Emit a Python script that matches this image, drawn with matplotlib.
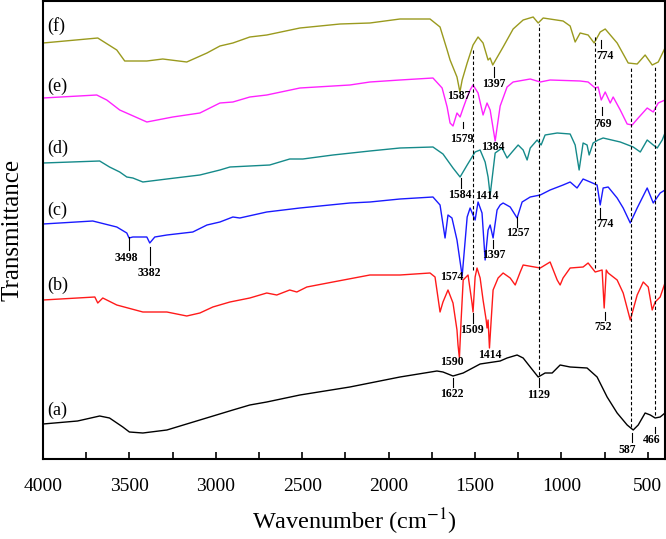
import matplotlib
matplotlib.use("Agg")
import matplotlib.pyplot as plt
from matplotlib.ticker import MultipleLocator

plt.rcParams['font.family'] = ['Liberation Serif', 'DejaVu Serif']
plt.rcParams['mathtext.fontset'] = 'stix'

# spectra: wavenumber (cm-1) and offset transmittance (a.u.)
wn_a = [4000, 3800, 3672, 3615, 3538, 3500, 3422, 3283, 3092, 2901, 2803, 2705, 2513, 2224, 2108,
        1934, 1720, 1685, 1627, 1568, 1470, 1354, 1314, 1256, 1221, 1180, 1134, 1094, 1053, 1007,
        949, 851, 793, 735, 677, 619, 584, 555, 515, 485, 457, 428, 400]
t_a = [35, 38, 43, 41, 32, 27, 26, 29, 39, 49, 54, 57, 64, 72, 76,
       82, 88, 87, 83, 86, 95, 98, 101, 104, 101, 92, 82, 86, 86, 94,
       92, 91, 82, 62, 46, 34, 29, 34, 46, 44, 41, 42, 46]

wn_b = [4000, 3700, 3683, 3654, 3573, 3422, 3283, 3168, 3092, 3017, 2918, 2803, 2705, 2647, 2572,
        2531, 2473, 2322, 2108, 1934, 1760, 1731, 1702, 1685, 1656, 1627, 1604, 1598, 1590, 1580,
        1568, 1540, 1517, 1511, 1499, 1488, 1470, 1453, 1435, 1430, 1424, 1416, 1406, 1395, 1366,
        1337, 1296, 1267, 1238, 1221, 1122, 1065, 1024, 1007, 990, 949, 874, 845, 804, 764,
        752, 740, 729, 677, 642, 601, 561, 526, 497, 474, 457, 428, 400]
t_b = [159, 162, 156, 161, 154, 147, 147, 143, 146, 152, 157, 161, 166, 164, 169,
       167, 172, 177, 184, 184, 186, 182, 147, 157, 169, 156, 129, 114, 101, 139,
       179, 184, 156, 147, 182, 191, 181, 159, 139, 131, 139, 111, 139, 169, 181,
       186, 181, 174, 187, 194, 191, 197, 179, 174, 181, 191, 192, 196, 187, 189,
       151, 189, 186, 179, 166, 139, 164, 177, 172, 149, 157, 162, 176]

wn_c = [4000, 3712, 3573, 3515, 3502, 3480, 3422, 3399, 3382, 3353, 3283, 3133, 3051, 2976, 2901,
        2861, 2705, 2513, 2224, 2108, 1934, 1743, 1702, 1673, 1656, 1633, 1604, 1574, 1545, 1528,
        1499, 1482, 1459, 1441, 1424, 1412, 1395, 1372, 1354, 1337, 1296, 1256, 1227, 1180, 1122,
        1065, 990, 949, 909, 874, 833, 793, 775, 758, 729, 677, 642, 601, 561, 503,
        468, 428, 400]
t_c = [235, 238, 232, 226, 221, 222, 222, 222, 216, 222, 224, 227, 234, 237, 242,
       241, 247, 251, 256, 257, 260, 262, 254, 221, 244, 241, 219, 183, 242, 251,
       239, 257, 246, 199, 229, 234, 221, 249, 254, 256, 252, 241, 257, 262, 264,
       269, 274, 277, 271, 280, 277, 274, 254, 271, 272, 261, 251, 236, 251, 271,
       256, 266, 269]

wn_d = [4000, 3672, 3615, 3556, 3515, 3480, 3422, 3283, 3092, 2976, 2918, 2803, 2688, 2572, 2496,
        2322, 2108, 1934, 1743, 1685, 1627, 1586, 1545, 1499, 1470, 1441, 1424, 1412, 1383, 1343,
        1314, 1285, 1250, 1221, 1198, 1180, 1140, 1117, 1094, 1024, 949, 920, 897, 874, 851,
        839, 816, 787, 758, 659, 584, 543, 503, 468, 445, 416, 400]
t_d = [296, 298, 292, 287, 282, 281, 277, 280, 284, 289, 292, 293, 294, 300, 300,
       304, 308, 311, 312, 305, 291, 282, 294, 307, 309, 297, 282, 264, 306, 311,
       301, 307, 314, 309, 299, 311, 319, 314, 324, 326, 325, 314, 289, 316, 314,
       304, 316, 319, 321, 317, 312, 307, 319, 314, 311, 319, 326]

wn_e = [4000, 3689, 3631, 3556, 3399, 3249, 3092, 2976, 2901, 2803, 2705, 2513, 2224, 2108, 1934,
        1743, 1690, 1661, 1644, 1627, 1604, 1586, 1568, 1545, 1528, 1511, 1482, 1453, 1430, 1412,
        1383, 1354, 1314, 1279, 1180, 1122, 1065, 891, 845, 804, 787, 769, 746, 717, 700,
        659, 619, 590, 555, 503, 468, 439, 400]
t_e = [361, 364, 359, 349, 337, 342, 346, 356, 357, 362, 364, 371, 374, 377, 379,
       381, 371, 352, 336, 333, 346, 342, 351, 362, 369, 374, 366, 344, 356, 349,
       318, 353, 372, 377, 380, 377, 379, 378, 377, 371, 372, 359, 367, 356, 362,
       349, 335, 334, 341, 351, 347, 356, 359]

wn_f = [4000, 3683, 3573, 3527, 3399, 3307, 3168, 3051, 2976, 2901, 2803, 2705, 2513, 2281, 2108,
        1934, 1819, 1760, 1702, 1661, 1644, 1604, 1587, 1574, 1545, 1511, 1482, 1453, 1424, 1412,
        1397, 1337, 1279, 1221, 1163, 1134, 1105, 990, 949, 920, 891, 845, 810, 775, 746,
        677, 613, 561, 515, 474, 439, 400]
t_f = [416, 421, 409, 398, 398, 400, 397, 406, 413, 416, 422, 424, 431, 435, 436,
       440, 440, 440, 432, 409, 399, 382, 367, 379, 396, 414, 422, 416, 399, 401,
       394, 412, 430, 439, 442, 436, 441, 438, 433, 417, 426, 424, 416, 427, 430,
       416, 396, 395, 404, 394, 397, 411]

curve_labels = ['(a)', '(b)', '(c)', '(d)', '(e)', '(f)']
colors = ['#000000', '#ff1a1a', '#1a1aff', '#158a8a', '#ff22ff', '#9a9a1e']

# dashed guide lines: wavenumber, lower end, upper end
guide_wn = [1509, 1129, 805, 597, 460]
guide_lo = [189, 84, 191, 32, 44]
guide_hi = [409, 435, 424, 391, 392]

# peak labels: text, x, y of text, tick x, tick bottom, tick top (None = no tick)
peaks = [
    ('1587', 1595, 363, None, None, None),
    ('1397', 1389, 375, 1389, 382, 392),
    ('774', 745, 403, 770, 411, 419),
    ('1579', 1575, 320, 1568, 331, 337),
    ('1384', 1395, 312, None, None, None),
    ('769', 760, 335, 765, 344, 352),
    ('1584', 1585, 264, 1583, 271, 281),
    ('1414', 1430, 263, None, None, None),
    ('3498', 3517, 201, 3502, 209, 222),
    ('3382', 3382, 186, 3378, 194, 212),
    ('1574', 1633, 182, None, None, None),
    ('1397', 1393, 204, 1393, 211, 219),
    ('1257', 1254, 226, 1254, 232, 242),
    ('774', 747, 235, 775, 241, 251),
    ('1509', 1518, 129, 1509, 136, 146),
    ('752', 760, 132, 746, 139, 147),
    ('1590', 1634, 97, None, None, None),
    ('1414', 1412, 104, None, None, None),
    ('1622', 1633, 65, 1625, 72, 81),
    ('1129', 1134, 64, 1127, 72, 81),
    ('587', 620, 9, 591, 17, 26),
    ('466', 476, 19, 457, 26, 32),
]

fig = plt.figure(figsize=(6.66, 5.39), dpi=100)
ax = fig.add_axes([43 / 666, 80 / 539, 622 / 666, 458 / 539])

series = [(wn_a, t_a), (wn_b, t_b), (wn_c, t_c), (wn_d, t_d), (wn_e, t_e), (wn_f, t_f)]
for (w, t), c in zip(series, colors):
    ax.plot(w, t, color=c, lw=1.0)

label_y = [49, 174, 249, 311, 373, 433]
for lab, y in zip(curve_labels, label_y):
    ax.text(3973, y, lab, fontsize=13, ha='left', va='center')

ax.vlines(guide_wn, guide_lo, guide_hi, colors='black', linestyles=(0, (3, 2)), lw=0.8)

for txt, x, y, tx, tb, tt in peaks:
    ax.text(x, y, txt, fontsize=8.5, fontweight='bold', ha='center', va='center')
    if tx is not None:
        ax.plot([tx, tx], [tb, tt], color='black', lw=0.8)

ax.set_xlim(4000, 400)
ax.set_ylim(0, 458)
ax.set_yticks([])
ax.xaxis.set_major_locator(MultipleLocator(500))
ax.xaxis.set_minor_locator(MultipleLocator(250))
ax.tick_params(axis='x', which='both', direction='in', length=5, width=1.2, labelsize=14, pad=14)
for s in ax.spines.values():
    s.set_linewidth(1.5)

ax.set_xlabel('Wavenumber (cm$^{-1}$)', fontsize=17.5, labelpad=8)
ax.set_ylabel('Transmittance', fontsize=18, labelpad=14)

fig.savefig('out.png', dpi=100)
